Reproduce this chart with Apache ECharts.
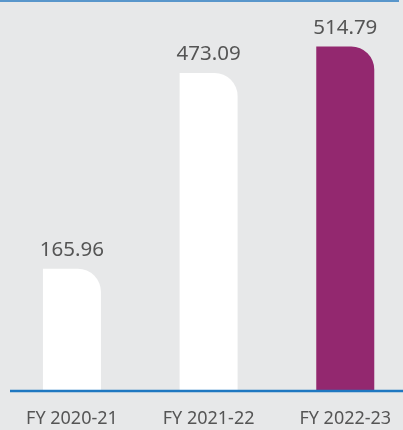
<!DOCTYPE html>
<html>
<head>
<meta charset="utf-8">
<script src="https://cdn.jsdelivr.net/npm/echarts@6/dist/echarts.min.js"></script>
<style>
html,body{margin:0;padding:0;background:#e7e8e9;}
#chart{width:403px;height:430px;}
</style>
</head>
<body>
<div id="chart"></div>
<script>
var categories = ['FY 2020-21', 'FY 2021-22', 'FY 2022-23'];
var values = [165.96, 473.09, 514.79];
var barColors = ['#ffffff', '#ffffff', '#93286f'];

var chart = echarts.init(document.getElementById('chart'));
chart.setOption({
  backgroundColor: '#e7e8e9',
  animation: false,
  grid: { left: 3.6, width: 410, top: 5, bottom: 39, containLabel: false, outerBoundsMode: 'none' },
  xAxis: {
    type: 'category',
    data: categories,
    axisLine: { show: false },
    axisTick: { show: false },
    axisLabel: { color: '#555555', fontFamily: 'Noto Sans', fontSize: 18, margin: 19 }
  },
  yAxis: {
    type: 'value',
    min: -26,
    max: 580,
    startValue: -26,
    show: false,
    splitLine: { show: false }
  },
  series: [{
    type: 'bar',
    barWidth: 58,
    data: values.map(function (v, i) {
      return { value: v, itemStyle: { color: barColors[i] } };
    }),
    itemStyle: { borderRadius: [0, 23, 0, 0] },
    label: {
      show: true,
      position: 'top',
      distance: 8,
      color: '#555555',
      fontFamily: 'Noto Sans',
      fontSize: 20.5,
      formatter: function (p) { return p.value.toFixed(2); }
    }
  }],
  graphic: [
    { type: 'line', shape: { x1: 0, y1: 1, x2: 399, y2: 1 }, style: { stroke: '#2a7bc0', lineWidth: 1.5 } },
    { type: 'line', shape: { x1: 10, y1: 391, x2: 403, y2: 391 }, style: { stroke: '#1f78c1', lineWidth: 2.5 }, z: 10 }
  ]
});
</script>
</body>
</html>
